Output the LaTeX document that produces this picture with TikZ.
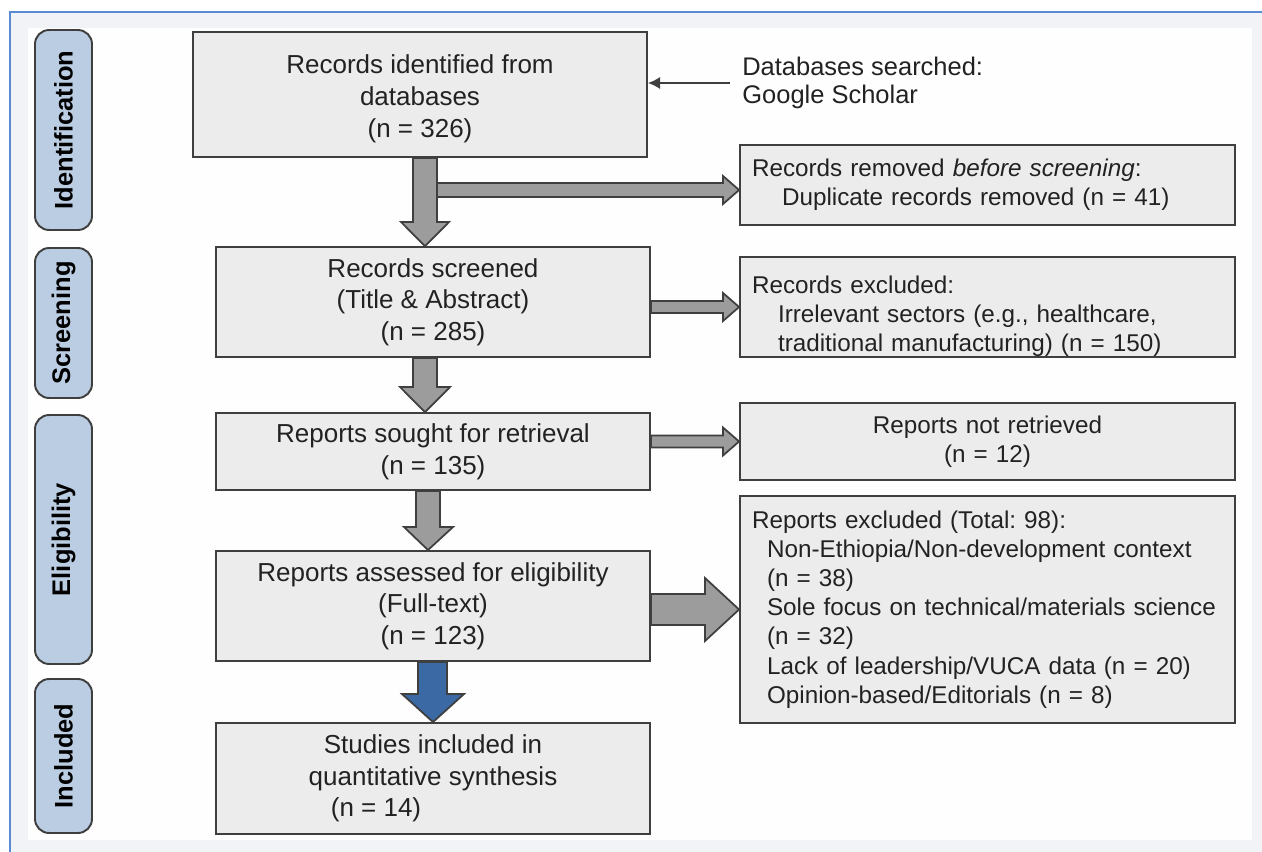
\documentclass[tikz,border=0pt]{standalone}
\usepackage{fontspec}
\setmainfont{Liberation Sans}
\usetikzlibrary{arrows.meta}
\definecolor{boxgray}{HTML}{ECECEC}
\definecolor{linegray}{HTML}{3F3F3F}
\definecolor{arrowgray}{HTML}{9C9C9C}
\definecolor{phaseblue}{HTML}{BACDE3}
\definecolor{flowblue}{HTML}{3A69A4}
\definecolor{frameblue}{HTML}{5A8AD2}
\definecolor{bggray}{HTML}{F2F3F6}
\definecolor{textgray}{HTML}{222222}
\frenchspacing

\begin{document}
\begin{tikzpicture}[x=0.02cm, y=-0.02cm,
    box/.style={draw=linegray, fill=boxgray, line width=1.1pt, text=textgray,
      align=center, inner sep=0pt, font=\fontsize{14.8}{18}\selectfont},
    sidebox/.style={box, align=left, inner xsep=0.24cm, text width=9.42cm,
      minimum width=9.9cm, font=\fontsize{13.8}{16.6}\selectfont},
    phase/.style={draw=linegray, fill=phaseblue, line width=1.1pt,
      rounded corners=8pt, rotate=90, inner sep=0pt, minimum height=1.14cm,
      text=black, font=\bfseries\fontsize{14.5}{17}\selectfont},
    flow/.style={draw=linegray, fill=arrowgray, line width=1pt}]

    \useasboundingbox (0,0) rectangle (1262,852);
    \fill[white] (0,0) rectangle (1262,852);
    \fill[bggray] (10,12) rectangle (1262,852);
    \fill[white!99!gray] (28,28) rectangle (1252,840);
    \draw[frameblue, line width=1.3pt] (10,852) -- (10,12) -- (1262,12);

    \draw
    (63.5,130) node[phase, minimum width=4cm](identification){Identification}
    (63.5,323) node[phase, minimum width=3cm](screening){Screening}
    (63.5,539.5) node[phase, minimum width=4.98cm](eligibility){Eligibility}
    (63.5,756) node[phase, minimum width=3.08cm](included){Included};

    \draw
    (420,94.5) node[box, minimum width=9.08cm, minimum height=2.5cm](ident){\rule{0pt}{0.55cm}Records identified from\\databases\\(n = 326)}
    (433,302) node[box, minimum width=8.68cm, minimum height=2.2cm](screen){Records screened\\(Title \& Abstract)\\(n = 285)}
    (433,451.5) node[box, minimum width=8.68cm, minimum height=1.54cm](sought){Reports sought for retrieval\\(n = 135)}
    (433,606) node[box, minimum width=8.68cm, minimum height=2.2cm](assessed){Reports assessed for eligibility\\(Full-text)\\(n = 123)}
    (433,778.5) node[box, minimum width=8.68cm, minimum height=2.22cm](studies){Studies included in\\quantitative synthesis\\(n = 14)\hspace*{2.28cm}};

    \draw
    (987.5,185) node[sidebox, minimum height=1.6cm](removed){Records removed \textit{before screening}:\\\hspace*{0.6cm}Duplicate records removed (n = 41)}
    (987.5,307) node[sidebox, minimum height=1.96cm](excluded){\rule{0pt}{0.72cm}Records excluded:\\\hspace*{0.52cm}Irrelevant sectors (e.g., healthcare,\\\hspace*{0.52cm}traditional manufacturing) (n = 150)}
    (987.5,441.5) node[sidebox, align=center, minimum height=1.54cm](notretrieved){Reports not retrieved\\(n = 12)}
    (987.5,609.5) node[sidebox, minimum height=4.54cm](reportsexcl){Reports excluded (Total: 98):\\
      \hspace*{0.3cm}Non-Ethiopia/Non-development context\\
      \hspace*{0.3cm}(n = 38)\\
      \hspace*{0.3cm}Sole focus on technical/materials science\\
      \hspace*{0.3cm}(n = 32)\\
      \hspace*{0.3cm}Lack of leadership/VUCA data (n = 20)\\
      \hspace*{0.3cm}Opinion-based/Editorials (n = 8)};

    \node[anchor=west, align=left, inner xsep=0.24cm, inner ysep=0pt, text=textgray,
      font=\fontsize{14.5}{16}\selectfont] (dbnote) at (730,83) {Databases searched:\\Google Scholar};
    \draw[linegray, line width=0.9pt, -{Latex[length=7pt,width=7pt]}] (dbnote.west) -- (ident.east |- dbnote.west);

    \coordinate (split) at (437,190);
    \filldraw[flow] (split) ++(0,-7) -- (723,183) -- (723,176) -- (removed.west |- 0,190) -- (723,204) -- (723,197) -- (437,197) -- cycle;
    \filldraw[flow] (413,0 |- ident.south) -- (413,222) -- (401,222) -- (425,0 |- screen.north) -- (449,222) -- (437,222) -- (437,0 |- ident.south) -- cycle;
    \filldraw[flow] (413,0 |- screen.south) -- (413,387) -- (400,387) -- (425,0 |- sought.north) -- (450,387) -- (437,387) -- (437,0 |- screen.south) -- cycle;
    \filldraw[flow] (416,0 |- sought.south) -- (416,527) -- (404,527) -- (428,0 |- assessed.north) -- (453,527) -- (440,527) -- (440,0 |- sought.south) -- cycle;
    \filldraw[flow, fill=flowblue] (418,0 |- assessed.south) -- (418,694) -- (402,694) -- (433,0 |- studies.north) -- (464,694) -- (447,694) -- (447,0 |- assessed.south) -- cycle;

    \filldraw[flow] (screen.east |- 0,301) -- (723,301) -- (723,293) -- (excluded.west) -- (723,321) -- (723,313) -- (screen.east |- 0,313) -- cycle;
    \filldraw[flow] (sought.east |- 0,435.5) -- (723,435.5) -- (723,427.5) -- (notretrieved.west) -- (723,455.5) -- (723,447.5) -- (sought.east |- 0,447.5) -- cycle;
    \filldraw[flow] (assessed.east |- 0,594) -- (705,594) -- (705,578) -- (reportsexcl.west) -- (705,641) -- (705,625) -- (assessed.east |- 0,625) -- cycle;

  \end{tikzpicture}
\end{document}
